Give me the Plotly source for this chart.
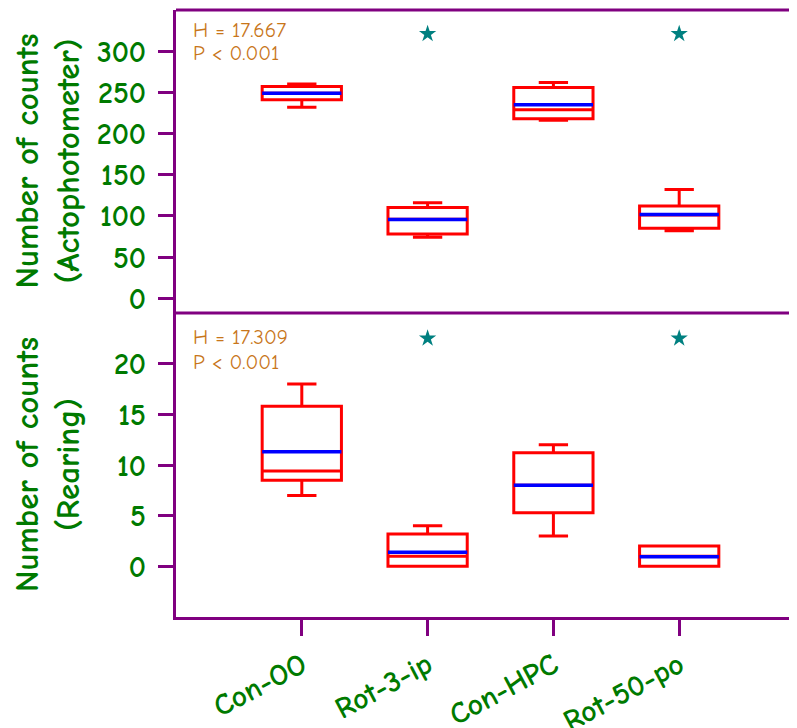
import plotly.graph_objects as go

groups = ["Con-OO", "Rot-3-ip", "Con-HPC", "Rot-50-po"]

# Panel 1: Actophotometer counts
act_low = [232, 74, 216, 82]
act_q1 = [241, 78, 218, 85]
act_med = [249, 96, 229, 101]
act_q3 = [257, 110, 256, 112]
act_high = [260, 116, 262, 132]
act_mean = [249, 95.5, 235, 101.5]

# Panel 2: Rearing counts
rear_low = [7, 0, 3, 0]
rear_q1 = [8.5, 0, 5.3, 0]
rear_med = [9.4, 1, 8, 1]
rear_q3 = [15.8, 3.2, 11.2, 2]
rear_high = [18, 4, 12, 2]
rear_mean = [11.3, 1.4, 8.0, 0.95]

star_groups = ["Rot-3-ip", "Rot-50-po"]
act_star_y = [321, 321]
rear_star_y = [22.5, 22.5]

act_stats = ["H = 17.667", "P < 0.001"]
rear_stats = ["H = 17.309", "P < 0.001"]

PURPLE = "#800080"
GREEN = "#007A00"
ORANGE = "#C8761A"
TEAL = "#008080"
FONT = "Comic Sans MS, Comic Neue, Open Sans, sans-serif"

W, H = 797, 728
ML, MR, MT, MB = 168, 0, 2, 119
xr = [-1, 4]
box_w = 0.63
plot_w = W - ML - MR
mean_size = box_w * plot_w / (xr[1] - xr[0]) / 1.4
split = 0.5008

fig = go.Figure()

def add_panel(low, q1, med, q3, high, mean, star_y, xa, ya):
    fig.add_trace(go.Box(
        x=groups, lowerfence=low, q1=q1, median=med, q3=q3, upperfence=high,
        width=box_w, whiskerwidth=0.37, boxpoints=False,
        line=dict(color="red", width=3), fillcolor="rgba(0,0,0,0)",
        xaxis=xa, yaxis=ya, showlegend=False, hoverinfo="skip"))
    fig.add_trace(go.Scatter(
        x=groups, y=mean, mode="markers",
        marker=dict(symbol="line-ew", size=mean_size,
                    line=dict(color="blue", width=3.5)),
        xaxis=xa, yaxis=ya, showlegend=False, hoverinfo="skip"))
    fig.add_trace(go.Scatter(
        x=star_groups, y=star_y, mode="markers",
        marker=dict(symbol="star", size=13, color=TEAL),
        xaxis=xa, yaxis=ya, showlegend=False, hoverinfo="skip"))

add_panel(act_low, act_q1, act_med, act_q3, act_high, act_mean, act_star_y, "x", "y")
add_panel(rear_low, rear_q1, rear_med, rear_q3, rear_high, rear_mean, rear_star_y, "x2", "y2")

tickfont = dict(family=FONT, size=30, color=GREEN, weight="bold")
common_y = dict(showgrid=False, zeroline=False, showline=True, linecolor=PURPLE,
                linewidth=3, ticks="outside", ticklen=15, tickwidth=3,
                tickcolor=PURPLE, tickfont=tickfont, automargin=False,
                ticklabelstandoff=6)

fig.update_layout(
    width=W, height=H, margin=dict(l=ML, r=MR, t=MT, b=MB, autoexpand=False),
    plot_bgcolor="white", paper_bgcolor="white",
    xaxis=dict(domain=[0, 1], anchor="y", type="category", categoryorder="array",
               categoryarray=groups, range=xr, showticklabels=False,
               showgrid=False, zeroline=False, showline=False, ticks="",
               automargin=False),
    xaxis2=dict(domain=[0, 1], anchor="y2", type="category", categoryorder="array",
                categoryarray=groups, range=xr, showgrid=False, zeroline=False,
                showline=True, linecolor=PURPLE, linewidth=3, ticks="outside",
                ticklen=16, tickwidth=3, tickcolor=PURPLE, tickangle=-28,
                tickfont=tickfont, automargin=False),
    yaxis=dict(domain=[split, 1], anchor="x", range=[-18, 350],
               tickvals=[0, 50, 100, 150, 200, 250, 300], **common_y),
    yaxis2=dict(domain=[0, split], anchor="x2", range=[-5, 25],
                tickvals=[0, 5, 10, 15, 20], **common_y),
)

for yy in [1, split]:
    fig.add_shape(type="line", xref="paper", yref="paper", x0=0, x1=1, y0=yy, y1=yy,
                  line=dict(color=PURPLE, width=3))

titlefont = dict(family=FONT, size=33, color=GREEN, weight="bold")
for (l1, l2), yc in [(("Number of counts", "(Actophotometer)"), (1 + split) / 2),
                     (("Number of counts", "(Rearing)"), split / 2)]:
    fig.add_annotation(text=l1, xref="paper", yref="paper", x=0, y=yc, xanchor="center",
                       yanchor="middle", xshift=-149, textangle=-90, showarrow=False,
                       font=titlefont)
    fig.add_annotation(text=l2, xref="paper", yref="paper", x=0, y=yc, xanchor="center",
                       yanchor="middle", xshift=-108, textangle=-90, showarrow=False,
                       font=titlefont)

statfont = dict(family=FONT, size=21, color=ORANGE)
for texts, yref, shifts in [(act_stats, "y domain", [-20, -43]),
                            (rear_stats, "y2 domain", [-24, -49])]:
    for t, s in zip(texts, shifts):
        fig.add_annotation(text=t, xref="paper", yref=yref, x=0, y=1, xanchor="left",
                           yanchor="middle", xshift=15, yshift=s, showarrow=False,
                           font=statfont)

fig.write_html("out.html")
